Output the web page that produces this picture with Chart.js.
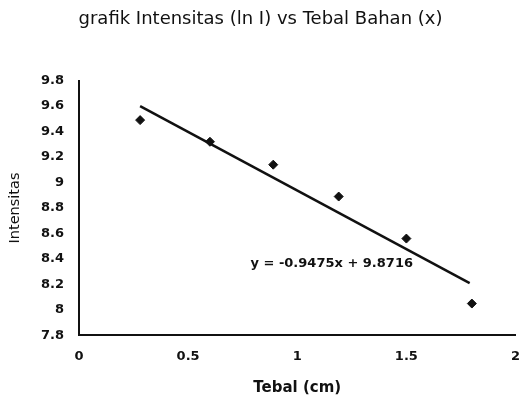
<!DOCTYPE html>
<html>
<head>
<meta charset="utf-8">
<script src="https://cdn.jsdelivr.net/npm/chart.js@4/dist/chart.umd.min.js"></script>
<style>
  html, body { margin: 0; padding: 0; background: #fff; }
  #wrap { width: 521px; height: 403px; }
</style>
</head>
<body>
<div id="wrap"><canvas id="myChart"></canvas></div>
<script>
// data
var tebal = [0.28, 0.6, 0.89, 1.19, 1.5, 1.8];
var intensitas = [9.49, 9.32, 9.14, 8.89, 8.56, 8.05];
var trendX = [0.28, 1.79];
var trendY = [9.6, 8.21];
var yTicks = [7.8, 8, 8.2, 8.4, 8.6, 8.8, 9, 9.2, 9.4, 9.6, 9.8];
var xTicks = [0, 0.5, 1, 1.5, 2];
var equation = 'y = -0.9475x + 9.8716';

var points = tebal.map(function (x, i) { return { x: x, y: intensitas[i] }; });
var trend = trendX.map(function (x, i) { return { x: x, y: trendY[i] }; });

var eqLabel = {
    id: 'eqLabel',
    afterDatasetsDraw: function (chart) {
        var c = chart.ctx;
        c.save();
        c.font = 'bold 13px "DejaVu Sans"';
        c.fillStyle = '#111';
        c.textAlign = 'center';
        c.textBaseline = 'middle';
        c.fillText(equation, chart.scales.x.getPixelForValue(1.158), chart.scales.y.getPixelForValue(8.36));
        c.restore();
    }
};

var ctx = document.getElementById('myChart').getContext('2d');
var myChart = new Chart(ctx, {
    type: 'scatter',
    data: {
        datasets: [{
            label: 'Intensitas',
            data: points,
            pointStyle: 'rectRot',
            pointRadius: 4.5,
            backgroundColor: '#111',
            borderColor: '#111'
        }, {
            label: 'Trendline',
            type: 'line',
            data: trend,
            borderColor: '#111',
            borderWidth: 2.5,
            pointRadius: 0,
            fill: false
        }]
    },
    options: {
        responsive: true,
        maintainAspectRatio: false,
        animation: false,
        layout: { padding: { top: 0, right: 0, bottom: 6, left: 0 } },
        plugins: {
            legend: { display: false },
            tooltip: { enabled: false },
            title: {
                display: true,
                text: 'grafik Intensitas (ln I) vs Tebal Bahan (x)',
                color: '#111',
                font: { family: '"DejaVu Sans"', size: 18, weight: 'normal' },
                padding: { top: 9, bottom: 50 }
            }
        },
        scales: {
            x: {
                type: 'linear',
                min: 0,
                max: 2,
                afterBuildTicks: function (s) { s.ticks = xTicks.map(function (v) { return { value: v }; }); },
                afterFit: function (s) { s.paddingRight = 3; s.paddingLeft = 0; },
                ticks: {
                    color: '#111',
                    font: { family: '"DejaVu Sans"', size: 13, weight: 'bold' },
                    padding: 13,
                    maxRotation: 0,
                    callback: function (v) { return String(v); }
                },
                grid: { display: false, drawTicks: false },
                border: { display: true, color: '#111', width: 2 },
                title: {
                    display: true,
                    text: 'Tebal (cm)',
                    color: '#111',
                    font: { family: '"DejaVu Sans"', size: 15, weight: 'bold' },
                    padding: { top: 2, bottom: 0 }
                }
            },
            y: {
                min: 7.8,
                max: 9.8,
                afterBuildTicks: function (s) { s.ticks = yTicks.map(function (v) { return { value: v }; }); },
                afterFit: function (s) { s.width = 79; },
                ticks: {
                    color: '#111',
                    font: { family: '"DejaVu Sans"', size: 13, weight: 'bold' },
                    padding: 15,
                    callback: function (v) { return String(+v.toFixed(1)); }
                },
                grid: { display: false, drawTicks: false },
                border: { display: true, color: '#111', width: 2 },
                title: {
                    display: true,
                    text: 'Intensitas',
                    color: '#111',
                    font: { family: '"DejaVu Sans"', size: 14.5 },
                    padding: { top: 7, bottom: 0 }
                }
            }
        }
    },
    plugins: [eqLabel]
});
</script>
</body>
</html>
